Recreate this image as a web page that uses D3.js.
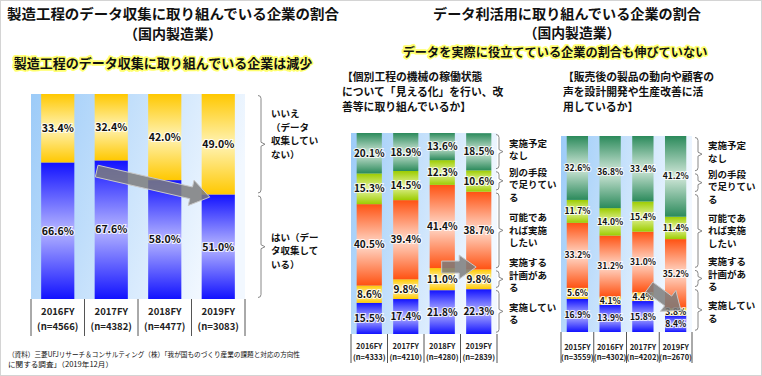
<!DOCTYPE html>
<html>
<head>
<meta charset="utf-8">
<script src="https://cdn.jsdelivr.net/npm/d3@7"></script>
<style>
  body { margin: 0; background: #fff; }
  svg { display: block; font-family: "Noto Sans CJK JP", "Noto Sans", sans-serif; }
</style>
</head>
<body>
<svg id="chart" width="762" height="376"></svg>
<script>
// データ（左：データ収集）
const leftCats = ["2016FY", "2017FY", "2018FY", "2019FY"];
const leftN = ["(n=4566)", "(n=4382)", "(n=4477)", "(n=3083)"];
const leftYes = [66.6, 67.6, 58.0, 51.0];
const leftNo = [33.4, 32.4, 42.0, 49.0];
const leftLegend = ["いいえ\n（データ\n収集してい\nない）", "はい（デー\nタ収集して\nいる）"];

// データ（中：見える化）
const midCats = ["2016FY", "2017FY", "2018FY", "2019FY"];
const midN = ["(n=4333)", "(n=4210)", "(n=4280)", "(n=2839)"];
const midDoing = [15.5, 17.4, 21.8, 22.3];
const midPlan = [8.6, 9.8, 11.0, 9.8];
const midWant = [40.5, 39.4, 41.4, 38.7];
const midOther = [15.3, 14.5, 12.3, 10.6];
const midNone = [20.1, 18.9, 13.6, 18.5];

// データ（右：設計開発・生産改善への活用）
const rightCats = ["2015FY", "2016FY", "2017FY", "2019FY"];
const rightN = ["(n=3559)", "(n=4302)", "(n=4202)", "(n=2670)"];
const rightDoing = [16.9, 13.9, 15.8, 8.4];
const rightPlan = [5.6, 4.1, 4.4, 3.8];
const rightWant = [33.2, 31.2, 31.0, 35.2];
const rightOther = [11.7, 14.0, 15.4, 11.4];
const rightNone = [32.6, 36.8, 33.4, 41.2];

// 凡例（上から）
const useLegend = ["実施予定\nなし", "別の手段\nで足りてい\nる", "可能であ\nれば実施\nしたい", "実施する\n計画があ\nる", "実施してい\nる"];

const svg = d3.select("#chart");
const defs = svg.append("defs");

// 枠線
svg.append("rect").attr("x", 0.5).attr("y", 0.5).attr("width", 761).attr("height", 375)
  .attr("fill", "#fff").attr("stroke", "#d4d4d4");

// グラデーション（上下が濃く中央が淡い）
function vGrad(id, edge, mid) {
  const g = defs.append("linearGradient").attr("id", id)
    .attr("x1", 0).attr("y1", 0).attr("x2", 0).attr("y2", 1);
  g.append("stop").attr("offset", "0%").attr("stop-color", edge);
  g.append("stop").attr("offset", "50%").attr("stop-color", mid);
  g.append("stop").attr("offset", "100%").attr("stop-color", edge);
}
vGrad("gBlue", "#1212ff", "#b4b4ff");
vGrad("gYellow", "#ffc800", "#fff3b4");
vGrad("gOrange", "#ff5212", "#ffdacb");
vGrad("gLime", "#9ccc00", "#e6f4a0");
vGrad("gGreen", "#2b8a5b", "#d2e8da");

const bg = defs.append("linearGradient").attr("id", "gBg")
  .attr("x1", 0).attr("y1", 0).attr("x2", 1).attr("y2", 0.3);
bg.append("stop").attr("offset", "0%").attr("stop-color", "#9ccbf8");
bg.append("stop").attr("offset", "100%").attr("stop-color", "#f2f8ff");

// 矢印（start→tipへ）
function arrow(g, ax, ay, bx, by, hw, hl, hh) {
  const dx = bx - ax, dy = by - ay, L = Math.hypot(dx, dy);
  const ux = dx / L, uy = dy / L, nx = -uy, ny = ux;
  const cx = bx - ux * hl, cy = by - uy * hl;
  const pts = [
    [ax + nx * hw, ay + ny * hw], [cx + nx * hw, cy + ny * hw], [cx + nx * hh, cy + ny * hh],
    [bx, by],
    [cx - nx * hh, cy - ny * hh], [cx - nx * hw, cy - ny * hw], [ax - nx * hw, ay - ny * hw]
  ];
  g.append("polygon").attr("points", pts.map(p => p.join(",")).join(" "))
    .attr("fill", "#7c7c7c").attr("fill-opacity", 0.85)
    .attr("stroke", "#c8c8c8").attr("stroke-width", 1);
}

// 積み上げ棒グラフを描く
function drawStack(cfg) {
  const g = svg.append("g");
  const x = d3.scaleBand().domain(cfg.cats).range([cfg.x0, cfg.x1]).paddingInner(cfg.pad).paddingOuter(cfg.pad / 2);
  const y = d3.scaleLinear().domain([0, 100]).range([cfg.y1, cfg.y0]);

  g.append("rect").attr("x", cfg.x0).attr("y", cfg.y0)
    .attr("width", cfg.x1 - cfg.x0).attr("height", cfg.y1 - cfg.y0).attr("fill", "url(#gBg)");

  const rows = cfg.cats.map((c, i) => {
    const r = { cat: c };
    cfg.keys.forEach((k, j) => r[k] = cfg.series[j][i]);
    return r;
  });
  const stacked = d3.stack().keys(cfg.keys)(rows);

  const layer = g.selectAll(".layer").data(stacked).join("g")
    .attr("fill", (d, i) => cfg.fills[i]);
  layer.selectAll("rect").data(d => d).join("rect")
    .attr("x", d => x(d.data.cat))
    .attr("width", x.bandwidth())
    .attr("y", d => y(Math.min(100, d[1])))
    .attr("height", d => y(d[0]) - y(Math.min(100, d[1])));

  // ラベル
  stacked.forEach(s => {
    g.selectAll(null).data(s).join("text")
      .attr("x", d => x(d.data.cat) + x.bandwidth() / 2)
      .attr("y", d => (y(d[0]) + y(Math.min(100, d[1]))) / 2)
      .attr("dy", "0.36em")
      .attr("text-anchor", "middle")
      .attr("font-size", cfg.labelSize)
      .attr("font-weight", "bold")
      .attr("fill", "#111")
      .attr("stroke", "#fff").attr("stroke-width", 2.2).attr("stroke-opacity", 0.8)
      .attr("paint-order", "stroke")
      .text(d => d3.format(".1f")(d[1] - d[0]) + "%");
  });

  // 下の区切り線とカテゴリ
  const edges = cfg.cats.map(c => x(c) - x.step() * cfg.pad / 2).concat([cfg.x1]);
  g.selectAll(".sep").data(edges).join("line")
    .attr("x1", d => d).attr("x2", d => d)
    .attr("y1", cfg.y1).attr("y2", cfg.axisBottom)
    .attr("stroke", "#555").attr("stroke-width", 1);
  g.selectAll(".cat").data(cfg.cats).join("text")
    .attr("x", d => x(d) + x.bandwidth() / 2).attr("y", cfg.catY[0])
    .attr("dy", "0.36em").attr("text-anchor", "middle")
    .attr("font-size", cfg.catSize).attr("font-weight", "bold").attr("fill", "#222")
    .text(d => d);
  g.selectAll(".n").data(cfg.ns).join("text")
    .attr("x", (d, i) => x(cfg.cats[i]) + x.bandwidth() / 2).attr("y", cfg.catY[1])
    .attr("dy", "0.36em").attr("text-anchor", "middle")
    .attr("font-size", cfg.catSize).attr("font-weight", "bold").attr("fill", "#222")
    .text(d => d);

  // 凡例の括弧
  let acc = 100;
  cfg.legend.forEach((lab, i) => {
    const top = acc, bot = acc - cfg.legendShares[i];
    acc = bot;
    const ya = y(top) + 1.5, yb = y(bot) - 1.5, ym = (ya + yb) / 2, bx = cfg.legendX;
    g.append("path")
      .attr("d", `M${bx - 3},${ya} Q${bx},${ya} ${bx},${ya + 3} V${ym - 2} L${bx + 4},${ym} L${bx},${ym + 2} V${yb - 3} Q${bx},${yb} ${bx - 3},${yb}`)
      .attr("fill", "none").attr("stroke", "#888").attr("stroke-width", 1);
    const lines = lab.split("\n");
    const t = g.append("text").attr("x", bx + 10).attr("font-size", cfg.legendSize)
      .attr("font-weight", "bold").attr("fill", "#111");
    lines.forEach((l, k) => {
      t.append("tspan").attr("x", bx + 10)
        .attr("y", ym + (k - (lines.length - 1) / 2) * cfg.legendLH + cfg.legendShift[i])
        .attr("dy", "0.36em").text(l);
    });
  });

  return { x, y, g };
}

// 左のグラフ
const L = drawStack({
  cats: leftCats, ns: leftN, keys: ["yes", "no"], series: [leftYes, leftNo],
  fills: ["url(#gBlue)", "url(#gYellow)"],
  x0: 31, x1: 245, y0: 94, y1: 299, pad: 0.38,
  labelSize: 10.5, catSize: 9.5, catY: [312, 327], axisBottom: 336,
  legend: leftLegend, legendShares: [leftNo[3], leftYes[3]],
  legendX: 261, legendSize: 9.5, legendLH: 13.5, legendShift: [-10, 4]
});
arrow(svg, L.x("2017FY") + 2, L.y(100 - 37.6), L.x("2019FY") + 8, L.y(100 - 50.3), 6, 19, 13);

// 中のグラフ
const M = drawStack({
  cats: midCats, ns: midN, keys: ["a", "b", "c", "d", "e"],
  series: [midDoing, midPlan, midWant, midOther, midNone],
  fills: ["url(#gBlue)", "url(#gYellow)", "url(#gOrange)", "url(#gLime)", "url(#gGreen)"],
  x0: 351, x1: 497, y0: 133, y1: 334, pad: 0.31,
  labelSize: 10, catSize: 7.5, catY: [346, 357], axisBottom: 363,
  legend: useLegend, legendShares: [midNone[3], midOther[3], midWant[3], midPlan[3], midDoing[3]],
  legendX: 499, legendSize: 9.5, legendLH: 12.5, legendShift: [-2, 4, 0, -4, 2]
});
arrow(svg, M.x("2018FY") + 12, M.y(100 - 66.7), M.x("2019FY") + 10, M.y(100 - 66.7), 6, 17, 12);

// 右のグラフ
const R = drawStack({
  cats: rightCats, ns: rightN, keys: ["a", "b", "c", "d", "e"],
  series: [rightDoing, rightPlan, rightWant, rightOther, rightNone],
  fills: ["url(#gBlue)", "url(#gYellow)", "url(#gOrange)", "url(#gLime)", "url(#gGreen)"],
  x0: 561, x1: 692, y0: 136, y1: 332, pad: 0.35,
  labelSize: 8.5, catSize: 7.5, catY: [347, 357], axisBottom: 363,
  legend: useLegend, legendShares: [midNone[3], midOther[3], midWant[3], midPlan[3], midDoing[3]],
  legendX: 698, legendSize: 9.5, legendLH: 12.5, legendShift: [-2, 4, 0, -4, 2]
});
arrow(svg, R.x("2017FY") + 17, R.y(100 - 77), R.x("2019FY") + 16, R.y(100 - 89), 6, 16, 13);

// タイトル
function text(x, y, s, size, opts = {}) {
  const t = svg.append("text").attr("x", x).attr("y", y).attr("dy", "0.36em")
    .attr("text-anchor", opts.anchor || "middle")
    .attr("font-size", size).attr("font-weight", opts.weight || "bold")
    .attr("fill", "#111").text(s);
  if (opts.glow) {
    t.attr("stroke", "#ffff70").attr("stroke-width", 3.5).attr("stroke-linejoin", "round")
      .attr("paint-order", "stroke");
  }
  if (opts.len) t.attr("textLength", opts.len).attr("lengthAdjust", "spacingAndGlyphs");
  return t;
}
text(173, 14, "製造工程のデータ収集に取り組んでいる企業の割合", 14, { len: 332 });
text(173, 33.5, "（国内製造業）", 14);
text(163, 63, "製造工程のデータ収集に取り組んでいる企業は減少", 13, { glow: true });

text(567, 14.5, "データ利活用に取り組んでいる企業の割合", 13.8, { len: 268 });
text(572, 33.5, "（国内製造業）", 13.8);
text(555, 53, "データを実際に役立てている企業の割合も伸びていない", 12.2, { glow: true });

["【個別工程の機械の稼働状態", "について「見える化」を行い、改", "善等に取り組んでいるか】"]
  .forEach((s, i) => text(342, 77 + i * 15, s, 10.8, { anchor: "start" }));
["【販売後の製品の動向や顧客の", "声を設計開発や生産改善に活", "用しているか】"]
  .forEach((s, i) => text(563, 77 + i * 15, s, 10.8, { anchor: "start" }));

// 出典
text(8, 354.5, "（資料）三菱UFJリサーチ＆コンサルティング（株）「我が国ものづくり産業の課題と対応の方向性", 7.2, { anchor: "start", weight: "normal", len: 292 });
text(8, 364.5, "に関する調査」（2019年12月）", 7.2, { anchor: "start", weight: "normal", len: 105 });
</script>
</body>
</html>
